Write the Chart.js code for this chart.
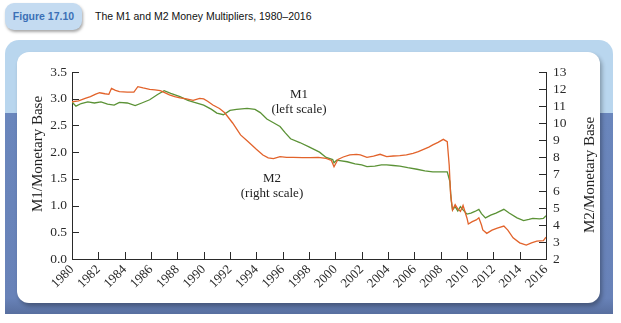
<!DOCTYPE html>
<html>
<head>
<meta charset="utf-8">
<script src="https://cdn.jsdelivr.net/npm/chart.js@4.4.1/dist/chart.umd.min.js"></script>
<style>
html, body { margin: 0; padding: 0; background: #fff; width: 621px; height: 323px; overflow: hidden; position: relative; font-family: 'Liberation Serif', serif; }
.abs { position: absolute; }
#badge { left: 5px; top: 3px; width: 77px; height: 27px; border-radius: 9px; background: #c4dbf1; box-shadow: 1px 2px 3px rgba(0,0,0,.35);
  font: bold 10.5px 'Liberation Sans Narrow', sans-serif; color: #3b70b6; line-height: 27px; text-align: center; }
#title { left: 95px; top: 10px; font: 10.5px 'Liberation Sans Narrow', sans-serif; color: #111; white-space: nowrap; }
#panel { left: 5px; top: 40px; width: 608px; height: 274px; border-radius: 14px 14px 0 0;
  background: linear-gradient(#b9d6ee 0, #b9d6ee 73px, #6a86bc 73px, #6882b8 258px, #586f9f 274px); }
#card { left: 17px; top: 52px; width: 583px; height: 251px; border-radius: 12px; background: #fff; box-shadow: 2px 3px 4px rgba(0,0,0,.3); }
#chart { left: 0; top: 0; }
.lab { font-size: 13px; color: #222; text-align: center; line-height: 15px; width: 100px; }
.ytitle { font-size: 15px; color: #222; width: 200px; text-align: center; line-height: 16px; transform: rotate(-90deg); white-space: nowrap; }
</style>
</head>
<body>
<div id="panel" class="abs"></div>
<div id="card" class="abs"></div>
<div id="badge" class="abs">Figure 17.10</div>
<div id="title" class="abs">The M1 and M2 Money Multipliers, 1980–2016</div>
<canvas id="chart" class="abs" width="621" height="323"></canvas>
<div class="abs lab" style="left:249px;top:86px">M1<br>(left scale)</div>
<div class="abs lab" style="left:222px;top:170px">M2<br>(right scale)</div>
<div class="abs ytitle" style="left:-63px;top:146px">M1/Monetary Base</div>
<div class="abs ytitle" style="left:489px;top:167px">M2/Monetary Base</div>
<script>
// ---------- data ----------
const m1Years = [1980.0, 1980.3, 1980.7, 1981.2, 1981.7, 1982.2, 1982.7, 1983.2, 1983.6, 1984.2,
  1984.8, 1985.3, 1985.9, 1986.5, 1987.0, 1987.5, 1988.2, 1988.8, 1989.3, 1990.0,
  1990.6, 1991.0, 1991.5, 1992.0, 1992.5, 1993.3, 1993.9, 1994.3, 1994.8, 1995.3,
  1995.8, 1996.2, 1996.6, 1997.3, 1998.0, 1998.8, 1999.3, 1999.8, 1999.9, 2000.1,
  2000.9, 2001.5, 2002.0, 2002.4, 2003.0, 2003.5, 2003.9, 2004.4, 2004.9, 2005.5,
  2006.2, 2006.8, 2007.4, 2008.0, 2008.5, 2008.7, 2008.8, 2008.9, 2009.1, 2009.3,
  2009.5, 2009.7, 2010.0, 2010.3, 2010.6, 2010.9, 2011.1, 2011.4, 2011.8, 2012.2,
  2012.8, 2013.2, 2013.8, 2014.3, 2014.7, 2015.0, 2015.5, 2015.8, 2016.0];
const m1Values = [2.94, 2.86, 2.91, 2.94, 2.92, 2.94, 2.90, 2.88, 2.93, 2.92,
  2.87, 2.92, 2.98, 3.08, 3.15, 3.10, 3.04, 2.97, 2.93, 2.88,
  2.80, 2.73, 2.70, 2.78, 2.80, 2.82, 2.80, 2.74, 2.62, 2.55,
  2.48, 2.36, 2.25, 2.18, 2.10, 2.00, 1.90, 1.86, 1.80, 1.85,
  1.82, 1.78, 1.76, 1.73, 1.74, 1.76, 1.76, 1.75, 1.74, 1.71,
  1.68, 1.65, 1.63, 1.63, 1.63, 1.45, 1.10, 0.92, 0.98, 0.90,
  0.98, 0.92, 0.84, 0.86, 0.89, 0.93, 0.85, 0.77, 0.82, 0.86,
  0.93, 0.86, 0.77, 0.72, 0.74, 0.76, 0.75, 0.76, 0.81];

const m2Years = [1980.0, 1980.5, 1981.0, 1981.4, 1981.8, 1982.1, 1982.5, 1982.8, 1983.0, 1983.3,
  1983.6, 1984.2, 1984.7, 1985.0, 1985.4, 1985.9, 1986.3, 1986.7, 1987.0, 1987.4,
  1987.8, 1988.2, 1988.7, 1989.2, 1989.7, 1990.0, 1990.3, 1990.7, 1991.2, 1991.6,
  1992.2, 1992.8, 1993.3, 1994.0, 1994.5, 1994.9, 1995.3, 1995.8, 1996.3, 1996.8,
  1997.5, 1998.1, 1998.7, 1999.3, 1999.7, 1999.9, 2000.2, 2000.6, 2001.1, 2001.6,
  2001.9, 2002.4, 2002.9, 2003.4, 2003.9, 2004.4, 2004.9, 2005.4, 2005.9, 2006.3,
  2006.7, 2007.1, 2007.4, 2007.8, 2008.2, 2008.5, 2008.65, 2008.75, 2008.9, 2009.1,
  2009.3, 2009.5, 2009.7, 2010.0, 2010.1, 2010.4, 2010.7, 2010.9, 2011.1, 2011.2,
  2011.5, 2011.9, 2012.3, 2012.8, 2013.1, 2013.5, 2014.0, 2014.5, 2014.9, 2015.3,
  2015.8, 2016.0];
const m2Values = [11.25, 11.30, 11.45, 11.55, 11.70, 11.78, 11.72, 11.69, 12.04, 11.92,
  11.84, 11.82, 11.82, 12.14, 12.06, 11.98, 11.95, 11.90, 11.80, 11.65,
  11.55, 11.48, 11.42, 11.33, 11.45, 11.42, 11.28, 11.06, 10.85, 10.60,
  10.00, 9.30, 8.95, 8.45, 8.12, 7.95, 7.90, 8.02, 7.98, 7.98,
  7.96, 7.96, 7.98, 7.92, 7.80, 7.43, 7.86, 8.00, 8.12, 8.15,
  8.12, 7.98, 8.05, 8.16, 8.02, 8.06, 8.08, 8.12, 8.22, 8.32,
  8.45, 8.58, 8.71, 8.86, 9.04, 8.90, 7.50, 5.86, 4.88, 5.20,
  4.95, 4.80, 5.15, 4.40, 4.06, 4.20, 4.30, 4.42, 4.00, 3.71,
  3.51, 3.70, 3.82, 3.94, 3.70, 3.25, 2.95, 2.82, 2.95, 3.05,
  3.08, 3.28];

const xTicks = [1980, 2016, 2];     // min, max, step
const leftTicks = [0, 3.5, 0.5];
const rightTicks = [2, 13, 1];

const GREEN = '#5b9236';
const ORANGE = '#e2632b';
const INK = '#2a2a2a';
const SERIF = 'Liberation Serif';

const toPts = (xs, ys) => xs.map((x, i) => ({ x, y: ys[i] }));

// ticks point into the plot area
const inwardTicks = {
  id: 'inwardTicks',
  afterDraw(chart) {
    const { ctx, chartArea: a } = chart;
    const len = 7;
    ctx.save();
    ctx.strokeStyle = INK;
    ctx.lineWidth = 1;
    ctx.beginPath();
    const sx = chart.scales.x;
    sx.ticks.forEach(t => { const p = Math.round(sx.getPixelForValue(t.value)) + 0.5; ctx.moveTo(p, a.bottom); ctx.lineTo(p, a.bottom - len); });
    const yl = chart.scales.y;
    yl.ticks.forEach(t => { const p = Math.round(yl.getPixelForValue(t.value)) + 0.5; ctx.moveTo(a.left, p); ctx.lineTo(a.left + len, p); });
    const yr = chart.scales.y2;
    yr.ticks.forEach(t => { const p = Math.round(yr.getPixelForValue(t.value)) + 0.5; ctx.moveTo(a.right, p); ctx.lineTo(a.right - len, p); });
    ctx.stroke();
    ctx.restore();
  }
};

const common = (min, max) => ({
  min, max,
  grid: { display: true, drawOnChartArea: false, drawTicks: false },
  border: { display: true, color: INK, width: 1 },
});

new Chart(document.getElementById('chart'), {
  type: 'line',
  data: {
    datasets: [
      { label: 'M1', data: toPts(m1Years, m1Values), yAxisID: 'y', borderColor: GREEN, borderWidth: 1.3, pointRadius: 0, tension: 0, order: 2 },
      { label: 'M2', data: toPts(m2Years, m2Values), yAxisID: 'y2', borderColor: ORANGE, borderWidth: 1.3, pointRadius: 0, tension: 0, order: 1 },
    ],
  },
  options: {
    responsive: false,
    animation: false,
    events: [],
    layout: { padding: { top: 72, bottom: 24, left: 0, right: 0 } },
    plugins: { legend: { display: false }, tooltip: { enabled: false }, title: { display: false } },
    scales: {
      x: {
        type: 'linear', position: 'bottom',
        ...common(xTicks[0], xTicks[1]),
        ticks: { stepSize: xTicks[2], autoSkip: false, minRotation: 45, maxRotation: 45, padding: 3,
          color: INK, font: { family: SERIF, size: 13 }, callback: v => String(v) },
        afterFit: s => { s.height = 40; },
      },
      y: {
        type: 'linear', position: 'left',
        ...common(leftTicks[0], leftTicks[1]),
        ticks: { stepSize: leftTicks[2], autoSkip: false, padding: 5, color: INK, font: { family: SERIF, size: 13.5 }, callback: v => v.toFixed(1) },
        afterFit: s => { s.width = 72; },
      },
      y2: {
        type: 'linear', position: 'right',
        ...common(rightTicks[0], rightTicks[1]),
        ticks: { stepSize: rightTicks[2], autoSkip: false, padding: 7, color: INK, font: { family: SERIF, size: 13.5 }, callback: v => String(v) },
        afterFit: s => { s.width = 75; },
      },
    },
  },
  plugins: [inwardTicks],
});
</script>
</body>
</html>
